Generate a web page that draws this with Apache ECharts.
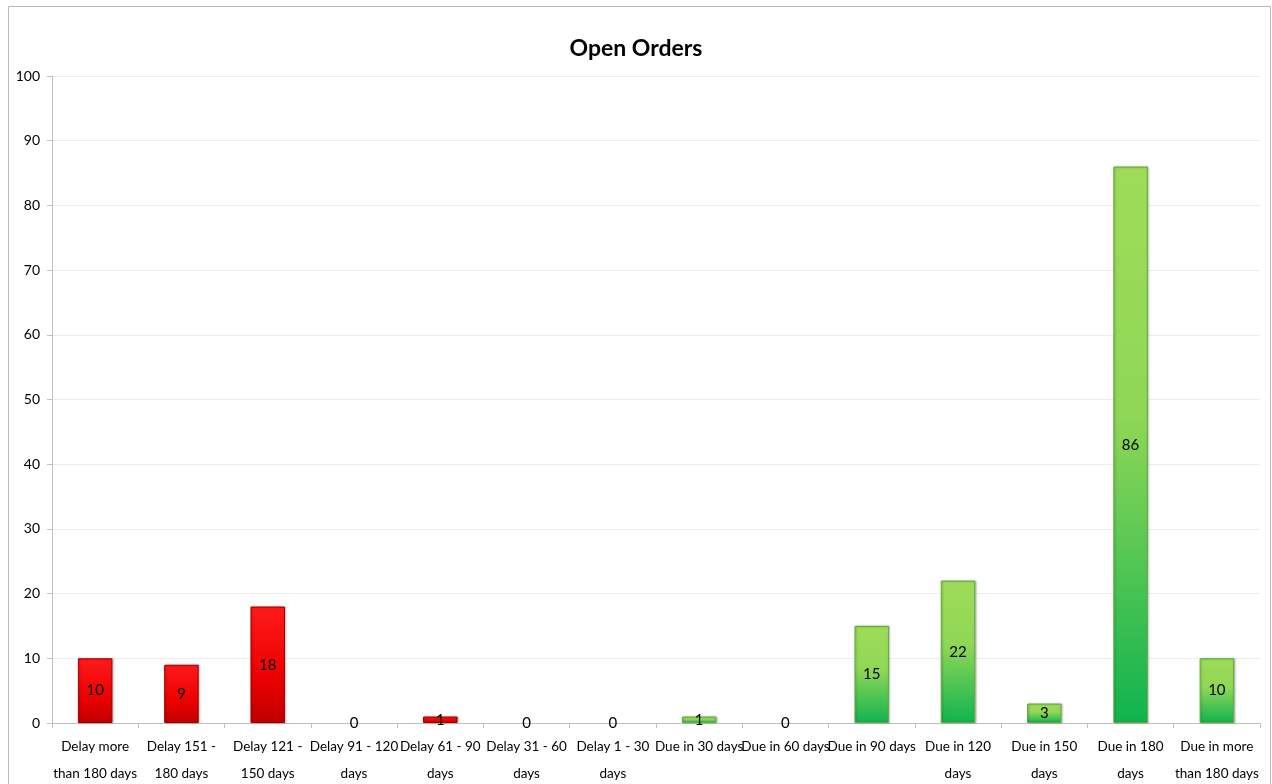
<!DOCTYPE html>
<html>
<head>
<meta charset="utf-8">
<title>Open Orders</title>
<script src="https://cdn.jsdelivr.net/npm/echarts@6/dist/echarts.min.js"></script>
<style>
  html, body { margin: 0; padding: 0; background: #fff; }
  #chart { width: 1272px; height: 784px; }
</style>
</head>
<body>
<div id="chart"></div>
<script>
var categories = [
  'Delay more\nthan 180 days', 'Delay 151 -\n180 days', 'Delay 121 -\n150 days', 'Delay 91 - 120\ndays',
  'Delay 61 - 90\ndays', 'Delay 31 - 60\ndays', 'Delay 1 - 30\ndays', 'Due in 30 days',
  'Due in 60 days', 'Due in 90 days', 'Due in 120\ndays', 'Due in 150\ndays',
  'Due in 180\ndays', 'Due in more\nthan 180 days'
];
var orders = [10, 9, 18, 0, 1, 0, 0, 1, 0, 15, 22, 3, 86, 10];
var isDelay = [true, true, true, true, true, true, true, false, false, false, false, false, false, false];

var font = 'Lato, "Open Sans", sans-serif';

var redFill = new echarts.graphic.LinearGradient(0, 0, 0, 1, [
  { offset: 0, color: '#ff1a1a' },
  { offset: 0.6, color: '#ee0000' },
  { offset: 1, color: '#c00000' }
]);
var greenFill = new echarts.graphic.LinearGradient(0, 0, 0, 1, [
  { offset: 0, color: '#9edc58' },
  { offset: 0.45, color: '#8fd756' },
  { offset: 1, color: '#10b34f' }
]);

var myChart = echarts.init(document.getElementById('chart'));

myChart.setOption({
  backgroundColor: '#fff',
  animation: false,
  title: {
    text: 'Open Orders',
    left: 'center',
    top: 32,
    textStyle: { fontFamily: font, fontSize: 23, fontWeight: 'bold', color: '#000' }
  },
  graphic: [{
    type: 'rect',
    shape: { x: 8.5, y: 6.5, width: 1262, height: 800 },
    style: { fill: 'none', stroke: '#b8b8b8', lineWidth: 1 },
    silent: true
  }],
  grid: { left: 52, right: 12, top: 76, bottom: 61, containLabel: false, outerBoundsMode: 'none' },
  xAxis: {
    type: 'category',
    data: categories,
    axisLine: { lineStyle: { color: '#bfbfbf' } },
    axisTick: { show: true, length: 5, lineStyle: { color: '#bfbfbf' } },
    axisLabel: {
      interval: 0,
      color: '#000',
      fontFamily: font,
      fontSize: 13.5,
      lineHeight: 27,
      margin: 10
    }
  },
  yAxis: {
    type: 'value',
    min: 0,
    max: 100,
    interval: 10,
    axisLine: { show: true, lineStyle: { color: '#bfbfbf' } },
    axisTick: { show: true, length: 5, lineStyle: { color: '#bfbfbf' } },
    splitLine: { lineStyle: { color: '#ececec' } },
    axisLabel: { color: '#000', fontFamily: font, fontSize: 14, margin: 12 }
  },
  series: [{
    type: 'bar',
    barWidth: '40%',
    data: orders.map(function (v, i) {
      return {
        value: v,
        itemStyle: v === 0 ? {
          color: 'rgba(0,0,0,0)',
          borderWidth: 0
        } : {
          color: isDelay[i] ? redFill : greenFill,
          borderColor: isDelay[i] ? '#a30000' : '#5fae3a',
          borderWidth: 1,
          shadowColor: 'rgba(0,0,0,0.25)',
          shadowBlur: 2,
          shadowOffsetX: 1
        }
      };
    }),
    label: {
      show: true,
      position: 'inside',
      color: '#000',
      fontFamily: font,
      fontSize: 15
    }
  }]
});

window.addEventListener('resize', function () {
  myChart.resize();
});
</script>
</body>
</html>
